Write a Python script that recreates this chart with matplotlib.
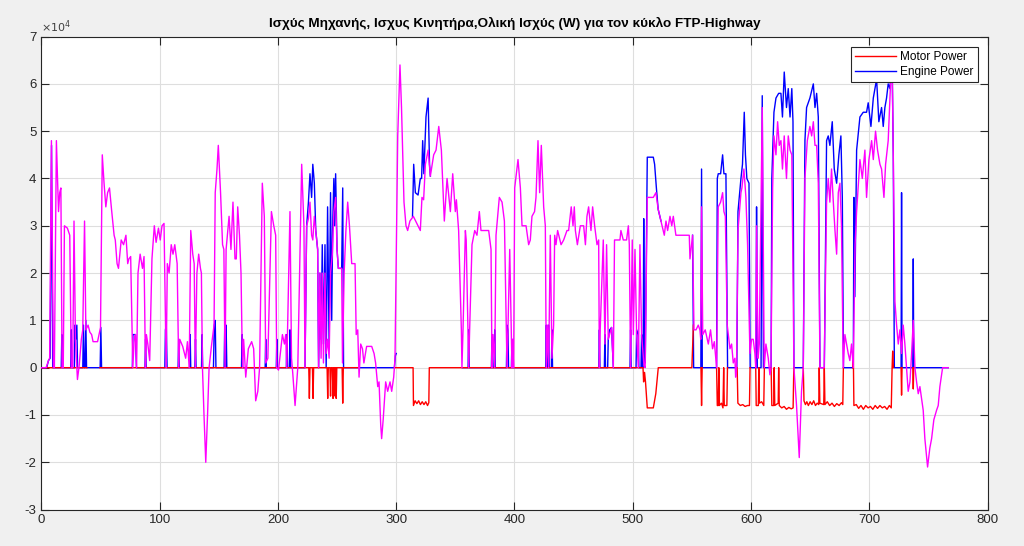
import numpy as np
import matplotlib
matplotlib.use("Agg")
import matplotlib.pyplot as plt
from matplotlib.ticker import FuncFormatter

plt.rcParams["font.family"] = ["Liberation Sans", "DejaVu Sans"]
plt.rcParams["axes.unicode_minus"] = False

nan = np.nan
title = "Ισχύς Μηχανής, Ισχυς Κινητήρα,Ολική Ισχύς (W) για τον κύκλο FTP-Highway"
legend_labels = ["Motor Power", "Engine Power"]
x_ticks = [0, 100, 200, 300, 400, 500, 600, 700, 800]
y_ticks = [-3, -2, -1, 0, 1, 2, 3, 4, 5, 6, 7]
scale = 1e4

# (time s, power x1e4 W) — total power (magenta)
total_pts = [
    (0, 0), (4, 0), (6, 0.15), (7, 0.2), (8.5, 4.8), (10.2, 0), (11, 0), (12.7, 4.8), (14.5, 3.3), (15.5, 3.7),
    (16.5, 3.8), (17.5, 0), (18.5, 0), (19.5, 3.0), (22, 2.95), (24, 2.8), (25.3, 0), (26.5, 0), (27.6, 3.1),
    (28.8, 0.6), (30.5, -0.25), (32, 0.05), (33.8, 0.6), (35, 0.8), (36.5, 3.1), (37.6, 0.8), (39.5, 0.9),
    (41, 0.75), (42.5, 0.7), (43.7, 0.55), (47.5, 0.55), (50, 0.85), (51.5, 4.5), (53, 3.9), (54.5, 3.4),
    (56, 3.7), (57.6, 3.8), (59.5, 3.3), (61.5, 2.8), (62.5, 2.7), (64, 2.2), (65.2, 2.1), (67.5, 2.7),
    (69.5, 2.6), (71.5, 2.8), (73, 2.2), (74, 2.3), (75.5, 2.35), (77.3, 0), (78.5, 0.6), (79.5, 0.7),
    (80.5, 0), (81.7, 2.0), (83.5, 2.4), (85.5, 2.1), (86.8, 2.35), (88, 0), (88.8, 0.7), (90, 0.5),
    (91.6, 0.15), (93.5, 2.3), (95.5, 3.0), (97, 2.65), (99, 2.95), (100.5, 2.7), (102, 3.0), (103.7, 3.05),
    (105.5, 0), (106.5, 2.2), (108, 2.0), (109.8, 2.6), (111.3, 2.4), (112.8, 2.6), (114.8, 2.2), (116.1, 0),
    (117, 0.6), (119.5, 0.45), (122, 0.2), (123.5, 0.55), (125, 0), (126.3, 2.9), (128, 2.4), (129.2, 2.2),
    (130.2, 0), (131.5, 2.0), (133, 2.4), (134.5, 2.1), (135.3, 2.0), (136.2, 0), (137.5, -1.0), (139, -2.0),
    (140.5, -1.0), (141.8, 0), (144, 0.5), (146, 0.9), (147, 3.7), (148.5, 4.2), (149.6, 4.7), (151.5, 3.7),
    (153.2, 2.6), (154.3, 2.5), (155.3, 0), (156.2, 2.5), (158.7, 3.2), (160.3, 2.5), (162, 3.5), (163.7, 2.3),
    (164.8, 2.3), (166, 3.4), (167.5, 2.8), (168.8, 2.0), (169.6, 0.7), (170.2, 0), (171, 0.6), (172.8, -0.2),
    (175, 0.4), (177.8, 0.55), (179.5, 0.4), (181.2, -0.7), (183, -0.5), (184.5, 0), (186.8, 3.9), (188.5, 3.2),
    (189.7, 0.1), (191.5, 0.2), (194.5, 3.3), (196.5, 3.0), (198.1, 2.8), (199, 0), (200.5, -0.05), (203.8, 0.7),
    (205.5, 0.5), (206.6, 0.7), (207.5, 0), (210.2, 3.3), (211.5, 0.2), (212.5, -0.1), (214.5, -0.8), (216.8, 0),
    (220.1, 4.3), (222, 3.0), (222.9, 0), (224.3, 3.0), (225.8, 3.15), (227.1, 3.5), (228.5, 2.8), (229.5, 2.7),
    (230.8, 3.2), (232, 2.9), (233.6, 2.5), (234.4, 0), (235.5, 2.0), (236.5, 0.2), (237.5, 2.0), (238.5, 0.1),
    (239.8, 2.0), (240.8, 0.3), (242, 0.6), (243.3, 0.2), (244.5, 2.0), (246, 2.4), (247.3, 3.3), (248.8, 3.6),
    (250, 2.5), (251.1, 2.1), (253.9, 2.1), (254.6, 0.1), (256, 2.0), (257.5, 2.9), (259, 3.5), (260.5, 3.0),
    (262.4, 2.2), (265.2, 2.2), (266.2, 0.7), (267.5, 0.8), (268.6, -0.2), (270, 0.5), (271.5, 0.4),
    (272.7, 0.1), (275, 0.45), (279.3, 0.45), (281.3, 0.3), (282.6, 0.1), (284.4, -0.4), (285.5, -0.3),
    (286.9, -1.2), (287.7, -1.5), (289, -1.1), (291.1, -0.3), (292.8, -0.5), (294.8, -0.3), (296.2, -0.5),
    (297.9, -0.2), (299, 0.2), (301.3, 4.9), (303.2, 6.4), (304.5, 5.5), (306.6, 3.5), (308.3, 3.0),
    (309.7, 2.9), (311.6, 3.1), (314.5, 3.2), (316.5, 3.1), (318.5, 3.0), (320.4, 2.9), (321.8, 3.6),
    (323.2, 3.55), (324.7, 4.3), (327, 4.6), (328.9, 4.05), (331.7, 4.5), (333.7, 4.6), (336, 5.1),
    (338.2, 4.6), (340.7, 3.1), (343, 4.0), (345.8, 3.3), (347.8, 4.1), (350, 3.3), (350.9, 3.55),
    (352.8, 2.9), (355.1, 0.8), (355.6, 0), (356.5, 0.8), (358.5, 2.9), (359.2, 2.7), (361.3, 0), (362.1, 0.8),
    (364.1, 2.6), (366.4, 2.9), (368.3, 2.8), (370.3, 3.3), (371.7, 2.9), (378.2, 2.9), (380.2, 2.5), (381, 0),
    (381.9, 0.7), (383.3, 0), (384.4, 2.8), (387.2, 3.6), (389.5, 3.5), (391.5, 3.1), (393.7, 0), (394.5, 0.8),
    (396, 2.5), (397.9, 0), (398.5, 0.6), (399.3, 0), (400.2, 3.8), (403, 4.4), (405, 3.8), (406.4, 3.0),
    (409.8, 3.0), (412, 2.6), (413.4, 2.7), (414.8, 3.2), (417, 3.3), (418.2, 3.6), (419.9, 4.8), (421.3, 3.7),
    (422.7, 4.7), (424.7, 3.4), (426.1, 3.0), (426.9, 0), (428, 0.9), (428.9, 0), (430.3, 2.8), (431.7, 0.2),
    (433.1, 0.9), (434, 2.8), (435.1, 2.6), (436.5, 2.9), (439.4, 2.6), (441.6, 2.7), (444.4, 2.9),
    (445.8, 2.9), (448, 3.4), (449.5, 3.0), (450.6, 3.4), (451.5, 2.9), (453.2, 2.6), (455.7, 3.0),
    (458.5, 3.0), (460, 2.6), (461.3, 3.2), (462.7, 3.4), (464.7, 2.9), (466.1, 3.4), (467.8, 3.0),
    (469.8, 2.6), (471.2, 2.7), (471.8, 0), (472.5, 0.8), (475.1, 2.7), (476.5, 0.5), (477.9, 2.6),
    (479.3, 0.6), (482.1, 0.85), (483.6, 0), (484.6, 2.7), (489.2, 2.7), (490, 2.9), (492, 2.7), (494.8, 2.7),
    (496.3, 3.0), (497.1, 2.6), (498.2, 0), (499.6, 2.7), (500.5, 0.7), (501.9, 2.5), (503.3, 0.7), (504.7, 0),
    (506.1, 2.6), (507.5, 0.7), (509.5, 0.05), (510.5, 0), (512.3, 3.6), (517.4, 3.6), (519.6, 3.7),
    (521.5, 3.35), (523.9, 3.1), (526.7, 2.8), (528.1, 3.1), (529.5, 2.9), (531.5, 3.2), (533, 3.0),
    (534.3, 3.2), (536.5, 2.8), (547.8, 2.8), (548.4, 2.3), (550.6, 2.8), (551.8, 0.8), (553.5, 0.8),
    (555.4, 0.9), (556.8, 0.8), (557.5, 0.6), (558.2, 3.4), (559.2, 0.7), (561.3, 0.8), (563.9, 0.5),
    (565.8, 0.8), (567.5, 0.4), (569, 0.55), (570.9, 0), (572.3, 3.4), (574.3, 3.5), (576, 3.7), (577.1, 3.3),
    (578.3, 3.2), (579.9, 0.9), (580.8, 0.7), (582.2, 0.4), (583.6, 0.5), (585, 0.1), (586.4, 0.2),
    (587, -0.2), (587.8, 0), (589, 2.9), (591.5, 3.7), (592.3, 3.8), (594, 4.2), (595.7, 3.6), (597.1, 2.6),
    (599.1, 0.3), (600.5, 0.6), (601.9, 0.6), (603.3, 0.3), (604, 0), (604.7, 3.0), (606, 0.2), (607, 0.5),
    (609.5, 5.5), (611.2, 0), (612.6, 0.5), (614.6, 0.2), (616, -0.15), (616.9, 0), (618.3, 3.8), (619.4, 4.9),
    (621.1, 4.5), (622.5, 5.2), (623.9, 4.7), (625.3, 4.8), (626.6, 4.2), (628.1, 4.9), (630, 4.0),
    (631.5, 4.9), (633, 4.6), (634.5, 4.5), (636.3, 0), (638.5, -0.8), (640.8, -1.9), (642.7, -0.5),
    (644.2, 0), (645.6, 4.0), (647.6, 4.8), (649.8, 5.1), (651.3, 4.9), (652.7, 5.2), (654.1, 4.7),
    (655.5, 4.7), (656.9, 3.9), (658.3, 0), (661.9, 0), (663.9, 3.5), (665.3, 4.0), (666.7, 3.5), (668.1, 4.2),
    (669.6, 3.5), (671, 2.9), (672.4, 2.4), (673.8, 3.7), (675.2, 3.9), (676.5, 3.0), (678, 0), (679.4, 0.7),
    (682.2, 0.3), (683.6, 0.15), (685, 0.5), (686.5, 0), (688, 2.6), (689.3, 3.3), (692.1, 4.4), (694.1, 4.0),
    (696.3, 4.6), (697.7, 3.6), (699.7, 4.4), (702, 4.8), (703.4, 4.4), (705.3, 5.0), (707, 4.6), (709, 4.3),
    (710.4, 4.2), (712.4, 3.6), (713.8, 4.3), (716, 4.8), (718.3, 6.2), (719.5, 6.1), (720.3, 4.5),
    (721.7, 1.4), (723.1, 0.9), (724.5, 0.5), (725.9, 0.8), (727.3, 0.3), (728.7, 0.9), (730.1, 0.5),
    (731.5, 0), (732.9, -0.5), (734.4, -0.3), (735.8, 0.3), (737.2, 1.0), (738.6, 0), (740, -0.3),
    (741.4, -0.55), (742.8, -0.4), (745.6, -0.9), (747, -1.5), (749.3, -2.1), (751.2, -1.7), (752.7, -1.5),
    (754.6, -1.1), (756.9, -0.9), (758.3, -0.8), (759.7, -0.4), (762, 0), (766.8, 0),
]

# engine power (blue); nan marks stretches where the trace lies under the total
engine_pts = [
    (0, 0), (4.5, 0), (6, 0.15), (7.4, 0.2), (8.6, 4.7), (9.6, 0), (16.8, 0), (17.3, 0.7), (17.8, 0),
    (24.8, 0), (25.3, 0.8), (25.8, 0), (27.9, 0), (28.4, 0.9), (29, 0.6), (30, 0.9), (30.6, 0), (35, 0),
    (35.6, 0.9), (36.2, 0), (37, 0), (37.6, 1.0), (38.2, 0), (49.7, 0), (50.3, 0.85), (50.9, 0), (76.9, 0),
    (77.4, 0.7), (78.4, 0.7), (79.6, 0.7), (80.4, 0), (87.6, 0), (88.1, 0.6), (88.6, 0), (104.4, 0),
    (104.9, 0.8), (105.6, 0.9), (106.3, 0), (115.6, 0), (116.1, 0.6), (116.6, 0), (125.3, 0), (125.8, 0.7),
    (126.3, 0), (129.8, 0), (130.3, 0.6), (130.8, 0), (135.4, 0), (135.9, 0.7), (136.4, 0), (145.5, 0),
    (146.2, 0.9), (147, 1.0), (147.6, 0), (154.5, 0), (155.1, 1.0), (155.7, 0), (156.2, 0.9), (156.8, 0),
    (169.2, 0), (169.7, 0.7), (170.2, 0), (189.2, 0), (189.7, 0.6), (190.2, 0), (198.6, 0), (199.1, 0.6),
    (199.6, 0), (207.1, 0), (207.6, 0.7), (208.1, 0), (209.7, 0), (210.2, 0.8), (210.8, 0), (222.9, 0),
    (224.3, 3.0), (225.8, 3.5), (227.1, 4.1), (228.5, 3.6), (229.5, 4.3), (230.8, 3.9), (232, 2.9),
    (233.6, 2.5), (234.4, 0), (235.5, 2.0), (236.5, 0.6), (237.5, 2.6), (238.5, 0.5), (239.8, 2.6),
    (240.8, 0), (242, 3.4), (243.3, 0.5), (244.5, 3.7), (245.5, 1.0), (246.3, 3.0), (247.3, 4.0), (248, 3.0),
    (248.8, 4.1), (250, 2.5), (251.1, 2.1), (253.9, 2.1), (254.8, 3.8), (255.5, 0), (298.5, 0),
    (299.3, 0.25), (300, 0.3), (307, nan), (313.8, 3.2), (314.8, 4.3), (316.2, 3.7), (318.5, 3.65),
    (320.4, 4.0), (321.5, 4.0), (322.4, 4.8), (323.4, 4.1), (325.2, 5.3), (327, 5.7), (328.2, 4.3),
    (328.9, 4.05), (340, nan), (356, 0), (360.8, 0), (361.3, 0.8), (361.8, 0), (380.5, 0), (381, 0.7),
    (381.5, 0), (382.8, 0), (383.3, 0.8), (383.8, 0), (393.2, 0), (393.7, 0.9), (394.5, 0.8), (395, 0),
    (397.4, 0), (397.9, 0.6), (398.4, 0), (426.4, 0), (426.9, 0.9), (427.4, 0), (428.4, 0), (428.9, 0.9),
    (429.4, 0), (431.2, 0), (431.7, 0.8), (432.2, 0), (471.3, 0), (471.8, 0.8), (472.3, 0), (476, 0),
    (476.5, 0.7), (477, 0), (478.8, 0), (479.3, 0.6), (480.5, 0.8), (482.1, 0.85), (483.6, 0), (497.7, 0),
    (498.2, 0.8), (498.7, 0), (502.8, 0), (503.3, 0.8), (504.7, 0.7), (505.2, 0), (507, 0), (507.5, 0.7),
    (508, 0), (508.8, 0), (509.3, 3.15), (509.9, 0.2), (510.6, 0.1), (512.3, 4.45), (517.4, 4.45),
    (518.5, 4.3), (520, 3.8), (521.5, 3.35), (523.9, 3.1), (535, nan), (550.6, 2.8), (551.5, 0),
    (557.6, 0), (558.2, 4.2), (558.8, 0), (570.9, 0), (571.5, 4.0), (572.3, 4.1), (574.3, 4.1), (576, 4.5),
    (577.1, 4.1), (578.8, 4.1), (580.2, 0), (588, 0), (589, 3.3), (591.5, 4.0), (592.8, 4.3), (594.3, 5.4),
    (595.3, 4.5), (596.5, 4.0), (598.3, 3.9), (599.3, 0), (604.2, 0), (604.7, 3.4), (605.3, 0), (608.5, 0),
    (609.5, 5.75), (610.5, 0), (617, 0), (617.6, 4.0), (619.4, 5.4), (621.1, 5.7), (623.4, 5.8),
    (625.3, 5.8), (626.6, 5.3), (628.1, 6.25), (630, 5.5), (631.5, 5.9), (633, 5.3), (634.5, 5.9),
    (635.5, 5.2), (636.3, 0), (644.2, 0), (645.6, 4.8), (647, 5.5), (649.8, 5.7), (652.7, 6.0), (654.1, 5.5),
    (655.5, 5.8), (656.9, 5.3), (658.3, 0), (662, 0), (663.9, 4.8), (665.3, 4.9), (666.7, 4.7), (668.7, 5.2),
    (670.4, 4.2), (672.4, 3.9), (674.3, 4.5), (676, 4.9), (677.2, 3.6), (678.2, 0), (686.5, 0), (687, 3.6),
    (687.8, 1.5), (689.3, 4.6), (692.1, 5.3), (694.9, 5.4), (697.7, 5.4), (699.1, 5.6), (701.4, 5.1),
    (703.4, 5.7), (706.2, 6.1), (708.1, 5.2), (710.4, 5.5), (711.8, 5.1), (713.2, 5.5), (714.6, 5.7),
    (716, 6.0), (717.5, 5.9), (718.3, 6.2), (719.5, 6.1), (720.3, 4.5), (721.2, 0), (726.9, 0), (727.3, 3.7),
    (727.7, 0), (736.8, 0), (737.2, 2.3), (737.6, 0), (766.8, 0),
]

# motor power (red); nan marks stretches where the trace lies under the total
motor_pts = [
    (0, 0), (38.5, 0), (44, nan), (49.5, 0), (226.1, 0), (226.6, -0.65), (227.1, 0), (229.2, 0),
    (229.7, -0.65), (230.2, 0), (241.6, 0), (242.1, -0.65), (242.6, 0), (244, 0), (244.5, -0.6), (245, 0),
    (246.1, 0), (246.6, -0.65), (247.1, 0), (247.8, 0), (248.3, -0.6), (248.8, 0), (249.3, -0.65),
    (249.8, 0), (254.3, 0), (254.8, -0.75), (255.3, 0), (268, 0), (283, nan), (298.5, 0), (314.3, 0),
    (314.6, -0.8), (316, -0.7), (317.5, -0.76), (319, -0.7), (320.5, -0.78), (322, -0.72), (323.5, -0.78),
    (325, -0.72), (326.5, -0.8), (327.6, -0.74), (328, 0), (508.7, 0), (509.2, -0.3), (510, -0.1),
    (510.8, -0.3), (512.3, -0.85), (517.4, -0.85), (519.5, -0.55), (521.6, 0), (550, 0), (551.3, 0.9),
    (554, nan), (557.7, 0), (558.2, -0.8), (558.7, 0), (564, nan), (570.9, 0), (571.5, -0.8), (572.3, -0.8),
    (572.8, 0), (573.3, -0.8), (575, -0.75), (576.3, -0.85), (576.9, 0), (577.4, -0.8), (579.6, -0.8),
    (580.1, 0), (584, nan), (588.3, 0), (588.9, -0.75), (591, -0.8), (593, -0.78), (595, -0.82), (597, -0.8),
    (598.7, -0.8), (599.2, 0), (601.5, nan), (604, 0), (604.4, -0.8), (606.2, -0.8), (606.6, 0),
    (607.1, -0.75), (609, -0.72), (610.8, -0.8), (611.3, 0), (614, nan), (617, 0), (617.6, -0.8),
    (619.2, -0.8), (619.6, 0), (620.1, -0.8), (623, -0.75), (623.4, 0), (623.9, -0.8), (626, -0.85),
    (628, -0.82), (630, -0.88), (632, -0.84), (634, -0.87), (635.6, -0.85), (636.2, 0), (640, nan),
    (644.2, 0), (644.8, -0.7), (646, -0.78), (647.2, -0.72), (648.5, -0.8), (650, -0.72), (651.5, -0.78),
    (653, -0.7), (654.5, -0.8), (656, -0.75), (657.3, -0.78), (657.7, 0), (658.2, -0.75), (661.5, -0.78),
    (662, 0), (662.5, -0.78), (664.5, -0.72), (666.5, -0.8), (668.5, -0.75), (670.5, -0.82), (672.5, -0.76),
    (674.5, -0.8), (676.5, -0.74), (677.6, -0.78), (678.1, 0), (682, nan), (686, 0), (686.5, 0.3),
    (687, -0.8), (689, -0.78), (691, -0.86), (693, -0.8), (695, -0.88), (697, -0.8), (699, -0.85),
    (701, -0.82), (703, -0.88), (705, -0.8), (707, -0.86), (709, -0.8), (711, -0.85), (713, -0.82),
    (715, -0.88), (717, -0.8), (718.6, -0.85), (719.3, 0), (719.8, 0.35), (720.4, 0), (723, nan),
    (726.9, 0), (727.3, -0.58), (727.7, 0), (732, nan), (736.8, 0), (737.2, -0.45), (737.6, 0), (745, nan),
]

total_t, total_p = np.array(total_pts).T
engine_t, engine_p = np.array(engine_pts).T
motor_t, motor_p = np.array(motor_pts).T

fig = plt.figure(figsize=(10.24, 5.46), dpi=100, facecolor="#f0f0f0")
ax = fig.add_axes([0.0404, 0.0667, 0.924, 0.8663])
ax.set_facecolor("white")

lw = 1.0
ax.plot(engine_t, engine_p * scale, color="#0000ff", lw=lw, label=legend_labels[1], zorder=3)
ax.plot(motor_t, motor_p * scale, color="#ff0000", lw=lw, label=legend_labels[0], zorder=4)
ax.plot(total_t, total_p * scale, color="#ff00ff", lw=lw, zorder=5)

ax.set_xlim(0, 800)
ax.set_ylim(-3 * scale, 7 * scale)
ax.set_xticks(x_ticks)
ax.set_yticks([v * scale for v in y_ticks])
ax.yaxis.set_major_formatter(FuncFormatter(lambda v, p: f"{v / scale:g}"))
ax.text(0.0, 1.004, r"$\times10^{4}$", transform=ax.transAxes, fontsize=8,
        color="#404040", ha="left", va="bottom")

ax.grid(True, color="#dedede", lw=0.8)
ax.set_axisbelow(True)
ax.tick_params(direction="in", length=6, width=0.8, colors="#262626", labelsize=9.5,
               top=True, right=True)
for s in ax.spines.values():
    s.set_color("#262626")
    s.set_linewidth(0.8)

ax.set_title(title, fontsize=9.7, fontweight="bold", color="black", pad=7)

h, l = ax.get_legend_handles_labels()
order = [l.index(legend_labels[0]), l.index(legend_labels[1])]
leg = ax.legend([h[i] for i in order], [l[i] for i in order], loc="upper right",
                fontsize=8.5, frameon=True, fancybox=False, framealpha=1,
                edgecolor="#262626", handlelength=3.5, handletextpad=0.3,
                borderaxespad=0.85, labelspacing=0.25, borderpad=0.35)
leg.get_frame().set_linewidth(0.8)

fig.savefig("out.png", dpi=100, facecolor=fig.get_facecolor())
